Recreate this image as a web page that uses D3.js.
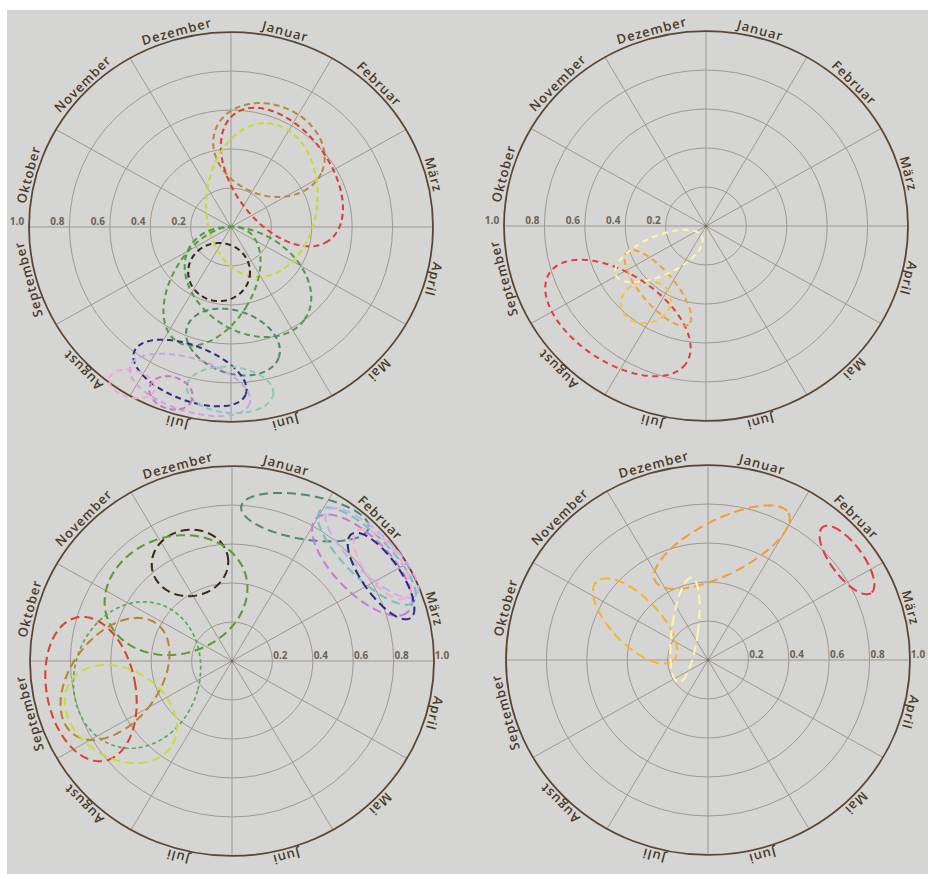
<!DOCTYPE html>
<html><head><meta charset="utf-8">
<script src="https://cdn.jsdelivr.net/npm/d3@7"></script>
<style>body{margin:0;background:#fff;} svg{display:block;}</style>
</head><body>
<script>
// ---------- data ----------
const months = ["Januar","Februar","März","April","Mai","Juni","Juli","August","September","Oktober","November","Dezember"];
const ringValues = [0.2, 0.4, 0.6, 0.8];
const tickValues = [0.2, 0.4, 0.6, 0.8, 1.0];
const tickLabels = ["0.2", "0.4", "0.6", "0.8", "1.0"];

// ellipses: centre (x = r·sin θ, y = r·cos θ), semi-axes rx, ry (radius units), rotation in degrees
const ellipsesTL = [
  {name:"ochre",     x: 0.188, y: 0.395, rx:0.285, ry:0.230, rot:25},
  {name:"red",       x: 0.252, y: 0.256, rx:0.400, ry:0.240, rot:55},
  {name:"lime",      x: 0.153, y: 0.138, rx:0.275, ry:0.395, rot:5},
  {name:"green",     x:-0.094, y:-0.303, rx:0.200, ry:0.333, rot:30},
  {name:"green2",    x: 0.084, y:-0.282, rx:0.340, ry:0.250, rot:35},
  {name:"tealgreen", x: 0.010, y:-0.590, rx:0.240, ry:0.160, rot:20},
  {name:"black",     x:-0.059, y:-0.231, rx:0.153, ry:0.149, rot:0},
  {name:"navy",      x:-0.203, y:-0.749, rx:0.297, ry:0.140, rot:22},
  {name:"lavender",  x:-0.203, y:-0.810, rx:0.310, ry:0.135, rot:18},
  {name:"lightteal", x:-0.005, y:-0.836, rx:0.215, ry:0.118, rot:5},
  {name:"magenta",   x:-0.297, y:-0.851, rx:0.110, ry:0.082, rot:20},
  {name:"pink",      x:-0.490, y:-0.805, rx:0.115, ry:0.070, rot:15}
];
const ellipsesTR = [
  {name:"red",    x:-0.436, y:-0.472, rx:0.410, ry:0.225, rot:35},
  {name:"orange", x:-0.238, y:-0.318, rx:0.240, ry:0.085, rot:51},
  {name:"golden", x:-0.297, y:-0.390, rx:0.125, ry:0.107, rot:-15},
  {name:"cream",  x:-0.233, y:-0.154, rx:0.235, ry:0.100, rot:-25}
];
const ellipsesBL = [
  {name:"darkteal",  x: 0.361, y: 0.738, rx:0.320, ry:0.113, rot:10},
  {name:"purple",    x: 0.644, y: 0.492, rx:0.330, ry:0.140, rot:47},
  {name:"lightteal", x: 0.668, y: 0.538, rx:0.330, ry:0.110, rot:46},
  {name:"lavender",  x: 0.693, y: 0.554, rx:0.310, ry:0.100, rot:45},
  {name:"pink",      x: 0.743, y: 0.497, rx:0.210, ry:0.090, rot:55},
  {name:"navy",      x: 0.738, y: 0.436, rx:0.260, ry:0.094, rot:56},
  {name:"black",     x:-0.208, y: 0.503, rx:0.190, ry:0.170, rot:-10},
  {name:"green",     x:-0.277, y: 0.338, rx:0.360, ry:0.300, rot:-20},
  {name:"lightgreen",x:-0.470, y:-0.072, rx:0.310, ry:0.380, rot:15},
  {name:"ochre",     x:-0.579, y:-0.092, rx:0.220, ry:0.350, rot:35},
  {name:"red",       x:-0.698, y:-0.144, rx:0.220, ry:0.374, rot:-10},
  {name:"lime",      x:-0.550, y:-0.272, rx:0.300, ry:0.225, rot:35}
];
const ellipsesBR = [
  {name:"orange", x: 0.069, y: 0.579, rx:0.373, ry:0.140, rot:-28},
  {name:"golden", x:-0.361, y: 0.200, rx:0.277, ry:0.120, rot:47},
  {name:"cream",  x:-0.114, y: 0.154, rx:0.065, ry:0.270, rot:7},
  {name:"red",    x: 0.688, y: 0.513, rx:0.207, ry:0.080, rot:55}
];

// ---------- styles ----------
const colorsTL = {ochre:"#b5893e", red:"#d9403a", lime:"#c9da2e", green:"#5c9f3a", green2:"#4e9e4a",
  tealgreen:"#4b8c6c", black:"#3a2a1c", navy:"#303088", lavender:"#c4a6e6", lightteal:"#86cbb8",
  magenta:"#c377c6", pink:"#f3a6cf"};
const colorsTR = {red:"#e2403e", orange:"#f2a03a", golden:"#f8c23a", cream:"#fff4a8"};
const colorsBL = {darkteal:"#4f8a78", purple:"#c87ad6", lightteal:"#72c2c0", lavender:"#c8aef0",
  pink:"#f4a8d4", navy:"#2c2c86", black:"#3b2b18", green:"#5e9b2e", lightgreen:"#58aa58",
  ochre:"#b8862e", red:"#d8452e", lime:"#c8dc3a"};
const colorsBR = {orange:"#f29d3c", golden:"#f6b62c", cream:"#fff2ae", red:"#e23c44"};

const panels = [
  {cx:231, cy:227, tickSide:-1, ellipses:ellipsesTL, colors:colorsTL, dash:"6,4"},
  {cx:706, cy:226, tickSide:-1, ellipses:ellipsesTR, colors:colorsTR, dash:"6,4.5"},
  {cx:232, cy:661, tickSide: 1, ellipses:ellipsesBL, colors:colorsBL, dash:"9,5"},
  {cx:708, cy:660, tickSide: 1, ellipses:ellipsesBR, colors:colorsBR, dash:"10,5"}
];

const W = 928, H = 874, R = 202, KY = 0.965;
const svg = d3.select("body").append("svg").attr("width", W).attr("height", H);
svg.append("rect").attr("x", 7).attr("y", 10).attr("width", W - 7).attr("height", H - 10).attr("fill", "#d5d5d3");

const r = d3.scaleLinear().domain([0, 1]).range([0, R]);
const angle = d3.scaleLinear().domain([0, 12]).range([0, 2 * Math.PI]);
const line = d3.line().curve(d3.curveLinearClosed);

function ellipsePath(e) {
  const cx = r(e.x), cy = -r(e.y), a = r(e.rx), b = r(e.ry), phi = e.rot * Math.PI / 180;
  const pts = d3.range(0, 360, 2).map(deg => {
    const t = deg * Math.PI / 180;
    return [cx + a * Math.cos(t) * Math.cos(phi) - b * Math.sin(t) * Math.sin(phi),
            cy + a * Math.cos(t) * Math.sin(phi) + b * Math.sin(t) * Math.cos(phi)];
  });
  return line(pts);
}

panels.forEach(p => {
  const g = svg.append("g").attr("transform", `translate(${p.cx},${p.cy})`);
  const geo = g.append("g").attr("transform", `scale(1,${KY})`);
  geo.selectAll("circle.ring").data(ringValues).join("circle").attr("class", "ring")
    .attr("r", d => r(d)).attr("fill", "none").attr("stroke", "#9d978e").attr("stroke-width", 1);
  geo.selectAll("line.spoke").data(d3.range(12)).join("line").attr("class", "spoke")
    .attr("x1", 0).attr("y1", 0)
    .attr("x2", i => r(1) * Math.sin(angle(i))).attr("y2", i => -r(1) * Math.cos(angle(i)))
    .attr("stroke", "#9d978e").attr("stroke-width", 1);
  geo.append("circle").attr("r", r(1)).attr("fill", "none").attr("stroke", "#5b4632").attr("stroke-width", 1.8);
  geo.append("circle").attr("r", 1.6).attr("fill", "#7a6a5a");
  geo.selectAll("path.ell").data(p.ellipses).join("path").attr("class", "ell")
    .attr("d", ellipsePath).attr("fill", "none")
    .attr("stroke", e => p.colors[e.name])
    .attr("stroke-width", e => e.name === "lightgreen" ? 1.7 : 2.1)
    .attr("stroke-dasharray", e => e.name === "lightgreen" ? "4,3" : p.dash);

  // month labels
  const k = 1 + 3 / R;
  g.selectAll("text.month").data(months).join("text").attr("class", "month")
    .attr("transform", (d, i) => {
      const th = angle(i + 0.5);
      const x = r(k) * Math.sin(th), y = -r(k) * Math.cos(th) * KY;
      return `translate(${x},${y}) rotate(${th * 180 / Math.PI})`;
    })
    .attr("text-anchor", "middle")
    .style("font-family", "'Open Sans', sans-serif").style("font-size", "13px")
    .style("font-weight", 600).style("letter-spacing", "1px")
    .attr("fill", "#4a3a28").text(d => d);

  // tick labels
  g.selectAll("text.tick").data(tickValues).join("text").attr("class", "tick")
    .attr("x", (d) => p.tickSide * (r(d) + (p.tickSide < 0 ? 12 : 8)))
    .attr("y", -2.5)
    .attr("text-anchor", "middle")
    .style("font-family", "'Open Sans', sans-serif").style("font-size", "10px").style("font-weight", 700)
    .attr("fill", "#6e6255").text((d, i) => tickLabels[i]);
});
</script>
</body></html>
